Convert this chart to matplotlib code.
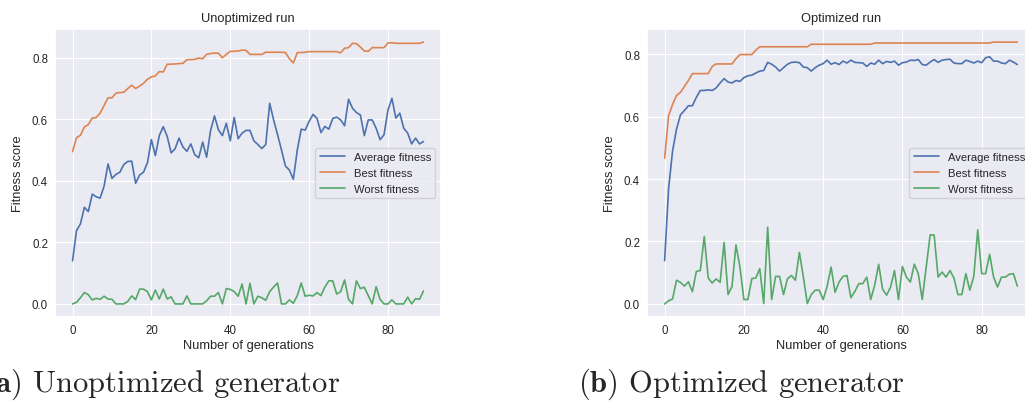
import matplotlib
matplotlib.use("Agg")
import matplotlib.pyplot as plt
import seaborn as sns
import numpy as np

# valeurs (90 générations)
generations = np.arange(90)

unopt_avg = [0.14, 0.238, 0.26, 0.314, 0.30, 0.357, 0.348, 0.344, 0.383, 0.455,
             0.408, 0.421, 0.428, 0.453, 0.463, 0.464, 0.392, 0.419, 0.428, 0.459,
             0.534, 0.482, 0.547, 0.576, 0.545, 0.491, 0.504, 0.539, 0.51, 0.496,
             0.52, 0.485, 0.475, 0.526, 0.477, 0.563, 0.611, 0.566, 0.547, 0.587,
             0.53, 0.606, 0.537, 0.555, 0.564, 0.564, 0.53, 0.518, 0.505, 0.518,
             0.652, 0.598, 0.55, 0.50, 0.448, 0.435, 0.405, 0.50, 0.568, 0.565,
             0.593, 0.616, 0.603, 0.557, 0.577, 0.568, 0.603, 0.607, 0.598, 0.579,
             0.665, 0.636, 0.622, 0.614, 0.547, 0.598, 0.598, 0.571, 0.534, 0.55,
             0.63, 0.668, 0.604, 0.62, 0.571, 0.555, 0.52, 0.539, 0.52, 0.528]

unopt_best = [0.495, 0.54, 0.548, 0.575, 0.583, 0.604, 0.606, 0.62, 0.645, 0.67,
              0.67, 0.685, 0.687, 0.688, 0.70, 0.711, 0.70, 0.708, 0.717, 0.73,
              0.738, 0.741, 0.755, 0.754, 0.779, 0.779, 0.78, 0.781, 0.782, 0.794,
              0.794, 0.795, 0.799, 0.797, 0.811, 0.814, 0.815, 0.815, 0.80, 0.811,
              0.821, 0.821, 0.822, 0.825, 0.824, 0.811, 0.811, 0.811, 0.811, 0.818,
              0.818, 0.818, 0.818, 0.818, 0.817, 0.797, 0.783, 0.817, 0.817, 0.818,
              0.82, 0.82, 0.82, 0.82, 0.82, 0.82, 0.82, 0.82, 0.816, 0.831,
              0.833, 0.847, 0.846, 0.835, 0.822, 0.821, 0.833, 0.833, 0.833, 0.833,
              0.848, 0.849, 0.847, 0.847, 0.847, 0.847, 0.847, 0.847, 0.847, 0.851]

unopt_worst = [0.0, 0.005, 0.02, 0.037, 0.03, 0.013, 0.018, 0.015, 0.025, 0.016,
               0.015, 0.0, 0.0, 0.0, 0.008, 0.026, 0.014, 0.048, 0.048, 0.04,
               0.013, 0.045, 0.016, 0.048, 0.016, 0.023, 0.0, 0.0, 0.0, 0.026,
               0.0, 0.0, 0.0, 0.0, 0.01, 0.025, 0.025, 0.037, 0.0, 0.05,
               0.047, 0.04, 0.025, 0.065, 0.0, 0.067, 0.0, 0.025, 0.02, 0.012,
               0.04, 0.055, 0.068, 0.0, 0.0, 0.013, 0.002, 0.027, 0.068, 0.025,
               0.028, 0.026, 0.037, 0.027, 0.055, 0.075, 0.075, 0.032, 0.04, 0.078,
               0.015, 0.0, 0.075, 0.05, 0.054, 0.027, 0.0, 0.056, 0.015, 0.0,
               0.0, 0.013, 0.0, 0.0, 0.0, 0.022, 0.0, 0.017, 0.015, 0.042]

opt_avg = [0.139, 0.37, 0.49, 0.56, 0.606, 0.62, 0.635, 0.635, 0.662, 0.684,
           0.684, 0.686, 0.684, 0.692, 0.708, 0.722, 0.711, 0.708, 0.716, 0.713,
           0.725, 0.731, 0.733, 0.74, 0.746, 0.748, 0.774, 0.768, 0.759, 0.746,
           0.757, 0.768, 0.774, 0.775, 0.773, 0.759, 0.757, 0.746, 0.757, 0.765,
           0.77, 0.781, 0.768, 0.773, 0.767, 0.778, 0.772, 0.781, 0.774, 0.773,
           0.772, 0.761, 0.772, 0.768, 0.781, 0.77, 0.777, 0.774, 0.778, 0.765,
           0.773, 0.775, 0.781, 0.78, 0.783, 0.767, 0.765, 0.775, 0.783, 0.774,
           0.781, 0.783, 0.784, 0.772, 0.77, 0.77, 0.781, 0.777, 0.772, 0.778,
           0.773, 0.789, 0.792, 0.778, 0.778, 0.772, 0.77, 0.781, 0.775, 0.767]

opt_best = [0.467, 0.603, 0.639, 0.668, 0.678, 0.697, 0.716, 0.738, 0.738, 0.738,
            0.738, 0.738, 0.761, 0.769, 0.769, 0.769, 0.769, 0.769, 0.786, 0.799,
            0.799, 0.799, 0.799, 0.813, 0.824, 0.824, 0.824, 0.824, 0.824, 0.824,
            0.824, 0.824, 0.824, 0.824, 0.824, 0.824, 0.824, 0.832, 0.832, 0.832,
            0.832, 0.832, 0.832, 0.832, 0.832, 0.832, 0.832, 0.832, 0.832, 0.832,
            0.832, 0.832, 0.832, 0.836, 0.836, 0.836, 0.836, 0.836, 0.836, 0.836,
            0.836, 0.836, 0.836, 0.836, 0.836, 0.836, 0.836, 0.836, 0.836, 0.836,
            0.836, 0.836, 0.836, 0.836, 0.836, 0.836, 0.836, 0.836, 0.836, 0.836,
            0.836, 0.836, 0.836, 0.839, 0.839, 0.839, 0.839, 0.839, 0.839, 0.839]

opt_worst = [0.0, 0.01, 0.016, 0.076, 0.069, 0.057, 0.071, 0.039, 0.104, 0.107,
             0.216, 0.083, 0.067, 0.08, 0.069, 0.197, 0.03, 0.056, 0.189, 0.118,
             0.014, 0.014, 0.081, 0.083, 0.113, 0.001, 0.246, 0.014, 0.088, 0.088,
             0.03, 0.081, 0.091, 0.076, 0.165, 0.086, 0.001, 0.03, 0.044, 0.044,
             0.014, 0.056, 0.118, 0.037, 0.07, 0.088, 0.091, 0.02, 0.04, 0.065,
             0.065, 0.086, 0.014, 0.06, 0.127, 0.047, 0.028, 0.054, 0.107, 0.014,
             0.12, 0.086, 0.07, 0.127, 0.097, 0.014, 0.118, 0.221, 0.221, 0.086,
             0.102, 0.086, 0.107, 0.083, 0.03, 0.03, 0.097, 0.044, 0.088, 0.237,
             0.097, 0.097, 0.159, 0.086, 0.054, 0.086, 0.086, 0.095, 0.097, 0.057]

titles = ["Unoptimized run", "Optimized run"]
captions = [r"$\mathbf{(a)}$ Unoptimized generator", r"$\mathbf{(b)}$ Optimized generator"]

sns.set_theme(style="darkgrid")
plt.rcParams['font.family'] = ['Liberation Sans', 'DejaVu Sans']
plt.rcParams['mathtext.fontset'] = 'cm'

fig = plt.figure(figsize=(10.25, 4.10), dpi=100)
ax1 = fig.add_axes([55 / 1025, 92 / 410, 386 / 1025, 288 / 410])
# le panneau de droite dépasse du cadre, comme dans l'original
ax2 = fig.add_axes([647 / 1025, 92 / 410, 388 / 1025, 288 / 410])

for ax, title, avg, best, worst in [(ax1, titles[0], unopt_avg, unopt_best, unopt_worst),
                                    (ax2, titles[1], opt_avg, opt_best, opt_worst)]:
    ax.plot(generations, avg, lw=1.2, label="Average fitness")
    ax.plot(generations, best, lw=1.2, label="Best fitness")
    ax.plot(generations, worst, lw=1.2, label="Worst fitness")
    ax.set_title(title, fontsize=9.3, pad=6)
    ax.set_xlabel("Number of generations", fontsize=9.3, labelpad=2)
    ax.set_ylabel("Fitness score", fontsize=9.3, labelpad=6)
    ax.set_xticks([0, 20, 40, 60, 80])
    ax.set_yticks([0.0, 0.2, 0.4, 0.6, 0.8])
    ax.tick_params(labelsize=8.3, pad=5, length=0)
    ax.grid(lw=0.8)
    ax.legend(loc="center right", fontsize=8.1, handlelength=2.2)

fig.text(340 / 1025, 0.045, captions[0], ha="right", va="baseline",
         fontsize=22, family="cmr10")
fig.text(905 / 1025, 0.045, captions[1], ha="right", va="baseline",
         fontsize=22, family="cmr10")

fig.savefig("out.png", dpi=100)
